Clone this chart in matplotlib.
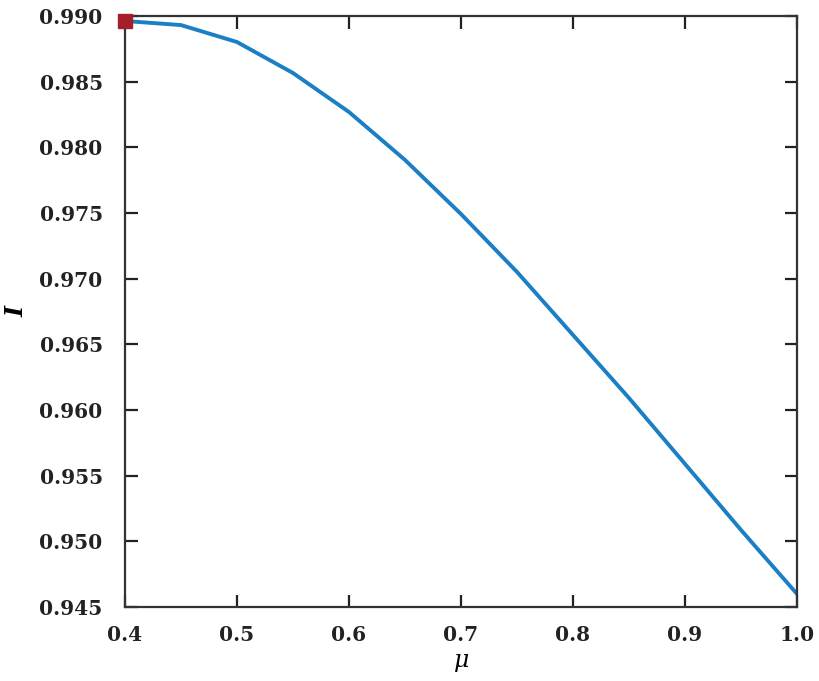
import matplotlib
matplotlib.use('Agg')
import matplotlib.pyplot as plt
import numpy as np

mu = [0.40, 0.45, 0.50, 0.55, 0.60, 0.65, 0.70, 0.75, 0.80, 0.85, 0.90, 0.95, 1.00]
I_vals = [0.98962, 0.98931, 0.98802, 0.98566, 0.98269, 0.97904, 0.97492,
          0.97051, 0.96571, 0.96091, 0.95589, 0.95086, 0.94599]
x_ticks = [0.4, 0.5, 0.6, 0.7, 0.8, 0.9, 1.0]
y_ticks = [0.945, 0.950, 0.955, 0.960, 0.965, 0.970, 0.975, 0.980, 0.985, 0.990]

plt.rcParams['font.family'] = ['DejaVu Serif']
plt.rcParams['mathtext.fontset'] = 'dejavuserif'

fig = plt.figure(figsize=(8.2, 6.81), dpi=100)
ax = fig.add_axes([0.1524, 0.1087, 0.8196, 0.8678])

ax.plot(mu, I_vals, color='#1a7fc4', linewidth=2.8, zorder=2)
ax.plot(mu[0], I_vals[0], marker='s', markersize=10, color='#a51e2c',
        linestyle='none', zorder=3, clip_on=False)

ax.set_xlim(0.4, 1.0)
ax.set_ylim(0.945, 0.990)
ax.set_xticks(x_ticks)
ax.set_xticklabels(['%.1f' % v for v in x_ticks])
ax.set_yticks(y_ticks)
ax.set_yticklabels(['%.3f' % v for v in y_ticks])

ax.tick_params(direction='in', length=9, width=1.6, top=True, right=True,
               labelsize=14.5, colors='#222222')
ax.tick_params(axis='y', pad=16)
ax.tick_params(axis='x', pad=13)
for lbl in ax.get_xticklabels() + ax.get_yticklabels():
    lbl.set_fontweight('bold')
for s in ax.spines.values():
    s.set_linewidth(1.6)
    s.set_color('#333333')

ax.set_xlabel(r'$\mu$', fontsize=17, labelpad=4)
ax.set_ylabel('I', fontsize=17, fontstyle='italic', fontweight='bold', labelpad=8)

fig.savefig('out.png', dpi=100)
